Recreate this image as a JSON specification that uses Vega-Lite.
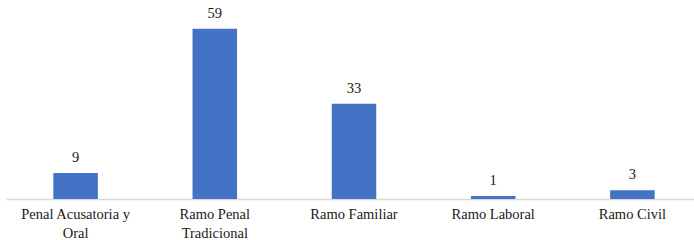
{
  "$schema": "https://vega.github.io/schema/vega-lite/v6.json",
  "autosize": {"type": "none"},
  "width": 696,
  "height": 199,
  "padding": {"left": 6, "top": 0, "right": 0, "bottom": 41},
  "background": "white",
  "config": {"view": {"stroke": null}, "font": "Liberation Serif"},
  "data": {"values": [
    {"categoria": "Penal Acusatoria y Oral", "valor": 9},
    {"categoria": "Ramo Penal Tradicional", "valor": 59},
    {"categoria": "Ramo Familiar", "valor": 33},
    {"categoria": "Ramo Laboral", "valor": 1},
    {"categoria": "Ramo Civil", "valor": 3}
  ]},
  "encoding": {
    "x": {"field": "categoria", "type": "nominal", "sort": null,
      "scale": {"paddingInner": 0.68, "paddingOuter": 0.34},
      "axis": {"title": null, "labelAngle": 0, "ticks": false, "domainColor": "#d9d9d9", "domainWidth": 1.5,
        "labelFont": "Liberation Serif", "labelFontSize": 14.5, "labelColor": "#1a1a1a", "labelPadding": 8, "labelLineHeight": 19,
        "labelLimit": 200,
        "labelExpr": "datum.value == 'Penal Acusatoria y Oral' ? ['Penal Acusatoria y', 'Oral'] : datum.value == 'Ramo Penal Tradicional' ? ['Ramo Penal', 'Tradicional'] : datum.value"}},
    "y": {"field": "valor", "type": "quantitative", "scale": {"domain": [0, 69], "nice": false}, "axis": null}
  },
  "layer": [
    {"mark": {"type": "bar", "color": "#4472C4"}},
    {"mark": {"type": "text", "baseline": "bottom", "dy": -8, "font": "Liberation Serif", "fontSize": 14.5, "color": "#1a1a1a"},
     "encoding": {"text": {"field": "valor", "type": "quantitative"}}}
  ]
}
